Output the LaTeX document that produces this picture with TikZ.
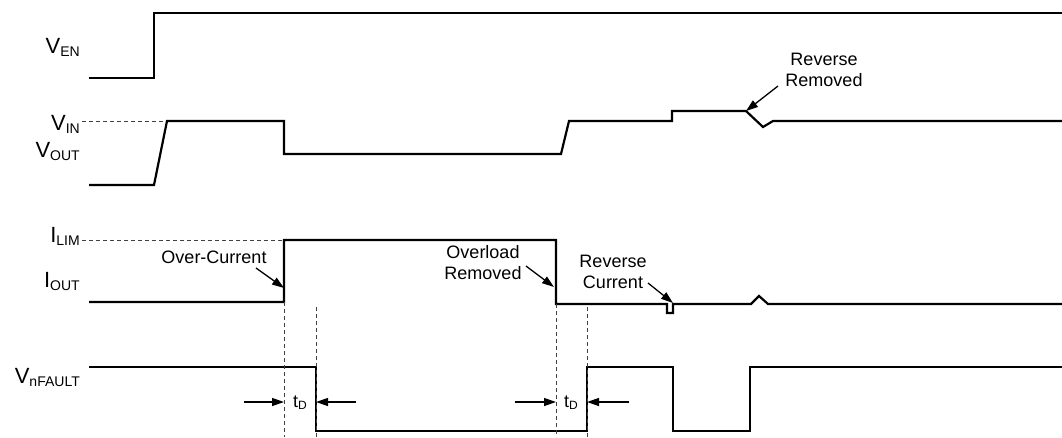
\documentclass[tikz,border=0pt]{standalone}
\usepackage{fontspec}
\setmainfont{Liberation Sans}
\usetikzlibrary{arrows.meta}
\newcommand\sigl[2]{#1\raisebox{-3pt}{\fontsize{14}{14}\selectfont #2}}
\newcommand\tdl{t\raisebox{-2.5pt}{\fontsize{12}{12}\selectfont D}}
\tikzset{
  wave/.style={line width=2.2pt, line join=miter},
  dashline/.style={line width=0.9pt, black!75, dash pattern=on 4pt off 3pt},
  sigs/.style={anchor=base east, inner sep=0pt, font=\fontsize{22}{24}\selectfont},
  note/.style={anchor=base, inner sep=0pt, font=\fontsize{18}{21}\selectfont},
  pointer/.style={line width=1.3pt, -{Triangle[length=12pt,width=8pt]}},
}
\begin{document}
\begin{tikzpicture}[x=1pt,y=-1pt]
\useasboundingbox (0,0) rectangle (1062,437);
% signal labels
\node[sigs] (len) at (80,53) {\sigl{V}{EN}};
\node[sigs] (lin) at (80,130) {\sigl{V}{IN}};
\node[sigs] (lout) at (80,157) {\sigl{V}{OUT}};
\node[sigs] (llim) at (80,242) {\sigl{I}{LIM}};
\node[sigs] (liout) at (80,287) {\sigl{I}{OUT}};
\node[sigs] (lflt) at (80,383) {\sigl{V}{nFAULT}};
% reference dashed levels
\draw[dashline] (82,121) -- (167,121);
\draw[dashline] (82,240) -- (284,240);
% waveforms
\draw[wave] (89,78) -- (154,78) -- (154,13) -- (1062,13);
\draw[wave] (89,185) -- (154,185) -- (167,121) -- (284,121) -- (284,154) -- (561,154) -- (569,121) -- (672,121) -- (672,111) -- (746,111) -- (763,127) -- (773,121) -- (1062,121);
\draw[wave] (89,302) -- (284,302) -- (284,240) -- (556,240) -- (556,304) -- (667,304) -- (667,313) -- (673,313) -- (673,304) -- (751,304) -- (759,296) -- (768,304) -- (1062,304);
\draw[wave] (89,367) -- (316,367) -- (316,431) -- (587,431) -- (587,367) -- (673,367) -- (673,431) -- (750,431) -- (750,367) -- (1062,367);
% vertical dashed markers
\draw[dashline] (284,302) -- (284,437);
\draw[dashline] (316,307) -- (316,437);
\draw[dashline] (556,304) -- (556,437);
\draw[dashline] (587,307) -- (587,437);
% annotations
\node[note] (oc) at (214,263) {Over-Current};
\coordinate (ocs) at (256,268);
\coordinate (oce) at (284,288);
\draw[pointer] (ocs) -- (oce);
\node[note] (olr) at (483,258) {\begin{tabular}[t]{@{}c@{}}Overload\\Removed\end{tabular}};
\coordinate (olrs) at (526,266);
\coordinate (olre) at (554,287);
\draw[pointer] (olrs) -- (olre);
\node[note] (rc) at (613,267) {\begin{tabular}[t]{@{}c@{}}Reverse\\Current\end{tabular}};
\coordinate (rcs) at (648,283);
\coordinate (rce) at (673,303);
\draw[pointer] (rcs) -- (rce);
\node[note] (rr) at (824,65) {\begin{tabular}[t]{@{}c@{}}Reverse\\Removed\end{tabular}};
\coordinate (rrs) at (778,86);
\coordinate (rre) at (746,111);
\draw[pointer] (rrs) -- (rre);
% tD markers
\node[note] (td1) at (300,407) {\tdl};
\coordinate (a1s) at (244,402); \coordinate (a1e) at (284,402);
\coordinate (b1s) at (356,402); \coordinate (b1e) at (316,402);
\draw[pointer] (a1s) -- (a1e);
\draw[pointer] (b1s) -- (b1e);
\node[note] (td2) at (571,407) {\tdl};
\coordinate (a2s) at (515,402); \coordinate (a2e) at (556,402);
\coordinate (b2s) at (629,402); \coordinate (b2e) at (587,402);
\draw[pointer] (a2s) -- (a2e);
\draw[pointer] (b2s) -- (b2e);
\end{tikzpicture}
\end{document}
